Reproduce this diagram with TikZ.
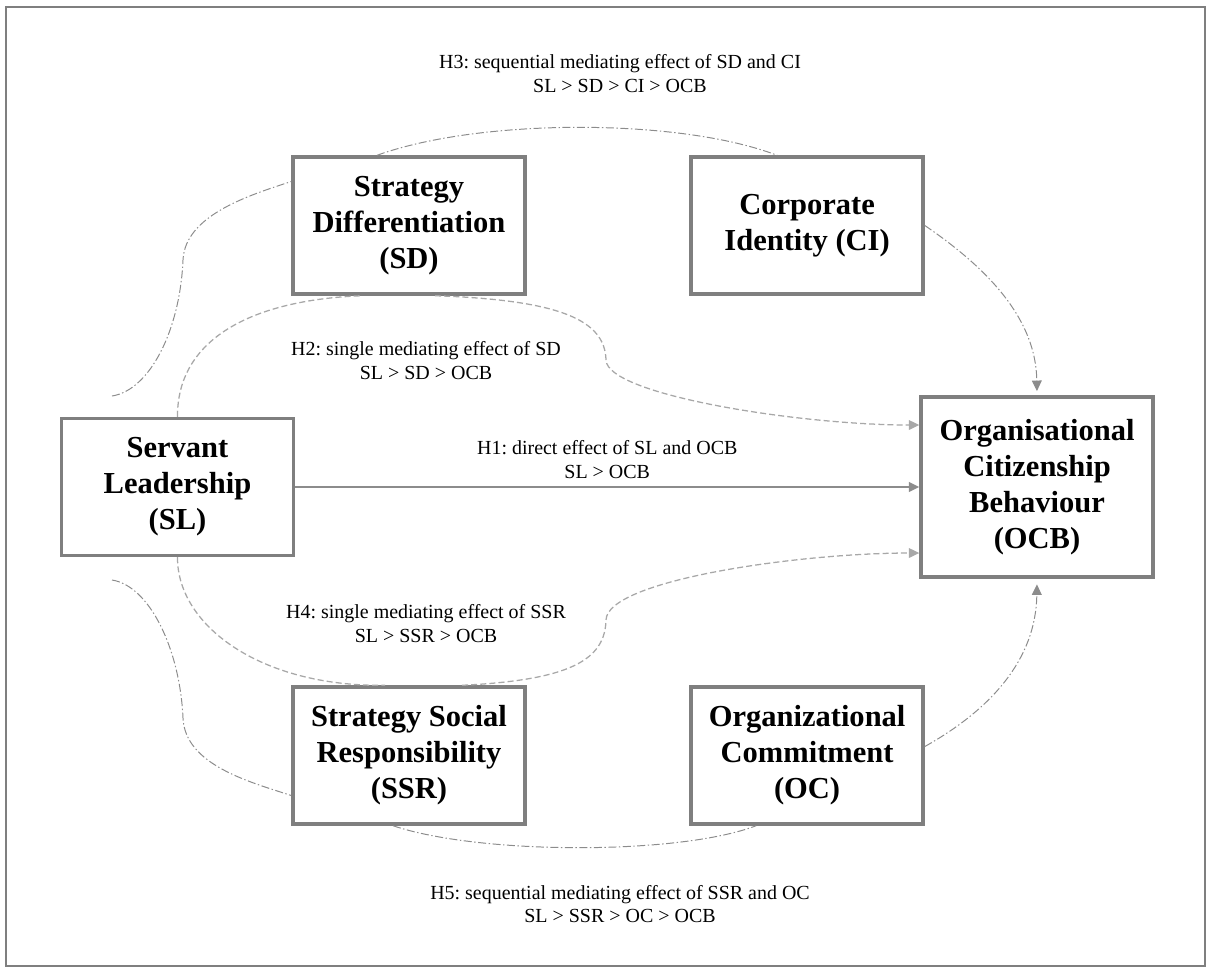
\documentclass[tikz,border=0pt]{standalone}
\usepackage{fontspec}
\setmainfont{Liberation Serif}
\usetikzlibrary{arrows.meta,calc}
\definecolor{boxgray}{HTML}{7F7F7F}
\definecolor{linegray}{HTML}{8C8C8C}
\definecolor{dashgray}{HTML}{A8A8A8}
\frenchspacing

\begin{document}
\begin{tikzpicture}[x=0.025cm, y=-0.025cm, node distance=9.95cm, >={Triangle[length=7.5pt,width=7pt]}]
\tikzset{v/.style={rectangle, draw=boxgray, line width=2.4pt, fill=white, minimum width=5.8cm, minimum height=3.425cm, align=center, inner sep=2pt, font=\fontsize{21.7}{25.6}\selectfont\bfseries},
h/.style={align=center, font=\fontsize{14.2}{17}\selectfont},
dir/.style={->, draw=linegray, line width=1.2pt},
med/.style={draw=dashgray, line width=0.9pt, dash pattern=on 4.3pt off 2.2pt},
seq/.style={draw=linegray, line width=0.7pt, dash pattern=on 5.7pt off 1.8pt on 1pt off 1.8pt}};

\useasboundingbox (0,0) rectangle (1208,969);
\draw[boxgray, line width=2pt] (6,7) rectangle (1205,966);

\node[v] (sl) at (177.5,487) {Servant\\Leadership\\(SL)};
\node[v] (sd) at (409,225.5) {Strategy\\Differentiation\\(SD)};
\node[v, right of=sd] (ci) {Corporate\\Identity (CI)};
\node[v, minimum height=4.5cm] (ocb) at (1037,487) {Organisational\\Citizenship\\Behaviour\\(OCB)};
\node[v] (ssr) at (409,755.5) {Strategy Social\\Responsibility\\(SSR)};
\node[v, right of=ssr] (oc) {Organizational\\Commitment\\(OC)};

\coordinate (s3) at (112,396);
\coordinate (s5) at (112,580);

% H1
\draw[dir] (sl) -- node[h, above=2pt] {H1: direct effect of SL and OCB\\SL > OCB} (ocb);

% H2 and H4
\draw[med] (sl.north) .. controls (177,340) and (250,300) .. ($(sd.south)+(-47,0)$);
\draw[med, ->] ($(sd.south)+(26,0)$) .. controls (560,300) and (605,320) .. (606,360) .. controls (607,395) and (800,425) .. ($(ocb.west)+(0,-62)$);
\draw[med] (sl.south) .. controls (177,625) and (260,687) .. ($(ssr.north)+(-24,0)$);
\draw[med, ->] ($(ssr.north)+(53,0)$) .. controls (570,680) and (605,660) .. (606,620) .. controls (607,580) and (800,553) .. ($(ocb.west)+(0,66)$);

% H3 and H5
\draw[seq] (s3) .. controls (150,390) and (180,330) .. (183,260) .. controls (185,215) and (250,195) .. ($(sd.west)+(0,-44)$);
\draw[seq] ($(sd.north)+(-32,0)$) .. controls (480,118) and (680,118) .. ($(ci.north)+(-30,0)$);
\draw[seq, ->, shorten >=3pt] (ci.east) .. controls (990,270) and (1036,320) .. (ocb.north);
\draw[seq] (s5) .. controls (150,586) and (180,650) .. (183,718) .. controls (185,765) and (250,782) .. ($(ssr.west)+(0,40)$);
\draw[seq] ($(ssr.south)+(-16,0)$) .. controls (480,855) and (680,855) .. ($(oc.south)+(-51,0)$);
\draw[seq, ->, shorten >=4pt] ($(oc.east)+(0,-9)$) .. controls (990,710) and (1036,660) .. (ocb.south);

\node[h] (h3) at (620,74) {H3: sequential mediating effect of SD and CI\\SL > SD > CI > OCB};
\node[h] (h2) at (426,361) {H2: single mediating effect of SD\\SL > SD > OCB};
\node[h] (h4) at (426,624) {H4: single mediating effect of SSR\\SL > SSR > OCB};
\node[h] (h5) at (620,904) {H5: sequential mediating effect of SSR and OC\\SL > SSR > OC > OCB};

\end{tikzpicture}
\end{document}
